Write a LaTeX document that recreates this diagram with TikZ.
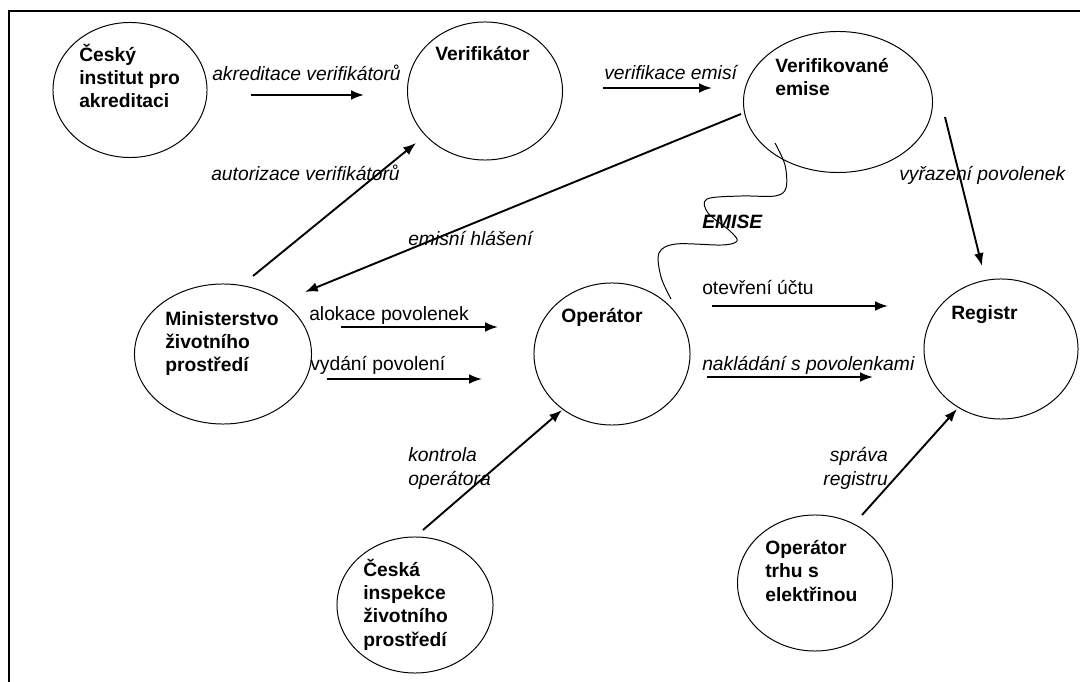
\documentclass[tikz,border=0pt]{standalone}
\usepackage{fontspec}
\setmainfont{Liberation Sans}
\usetikzlibrary{%
  arrows.meta,%
  shapes.geometric%
}
\newcommand{\sz}{\fontsize{13.7}{16.5}\selectfont}
\tikzset{>={Latex[length=3.2mm,width=2.4mm]},
  actor/.style = {draw, ellipse, line width=0.7pt, inner sep=0pt, minimum height=3.45cm},
  actorname/.style = {font=\sz\bfseries, align=left, anchor=base west, inner sep=0pt},
  flow/.style = {->, line width=1.35pt},
  lbl/.style = {font=\sz\itshape, align=left, anchor=base west, inner sep=0pt},
  plainlbl/.style = {lbl, font=\sz}}

\begin{document}
\begin{tikzpicture}[x=0.025cm,y=-0.025cm]
  \useasboundingbox (0,0) rectangle (1080,682);
  \draw[line width=1.4pt] (9,682) -- (9,11) -- (1080,11);

  \node[actor, minimum width=3.85cm, minimum height=3.375cm] (cia) at (130,90) {};
  \node[actor, minimum width=3.875cm] (ver) at (485,91) {};
  \node[actor, minimum width=4.725cm, minimum height=3.525cm] (vem) at (838,102) {};
  \node[actor, minimum width=4.425cm, minimum height=3.5cm] (mzp) at (223,354) {};
  \node[actor, minimum width=3.9cm, minimum height=3.55cm] (ope) at (612,354) {};
  \node[actor, minimum width=3.85cm, minimum height=3.5cm] (reg) at (1001,349) {};
  \node[actor, minimum width=3.9cm, minimum height=3.4cm] (cizp) at (415,605) {};
  \node[actor, minimum width=3.875cm, minimum height=3.4cm] (ote) at (815,583) {};

  % base anchor = last line
  \node[actorname] (cia-t) at (79,108) {Český\\institut pro\\akreditaci};
  \node[actorname] (ver-t) at (435,61) {Verifikátor};
  \node[actorname] (vem-t) at (775,96) {Verifikované\\emise};
  \node[actorname] (mzp-t) at (165,372) {Ministerstvo\\životního\\prostředí};
  \node[actorname] (ope-t) at (561,323) {Operátor};
  \node[actorname] (reg-t) at (951,320) {Registr};
  \node[actorname] (cizp-t) at (363,646) {Česká\\inspekce\\životního\\prostředí};
  \node[actorname] (ote-t) at (765,601) {Operátor\\trhu s\\elektřinou};

  \coordinate (akr-a) at (251,95);  \coordinate (akr-b) at (364,95);
  \coordinate (vef-a) at (603,88);  \coordinate (vef-b) at (712,88);
  \coordinate (aut-a) at (253,276); \coordinate (aut-b) at (416,143);
  \coordinate (emh-a) at (741,114); \coordinate (emh-b) at (305,292);
  \coordinate (vyr-a) at (945,117); \coordinate (vyr-b) at (982,266);
  \coordinate (otv-a) at (712,306); \coordinate (otv-b) at (888,306);
  \coordinate (nak-a) at (707,377); \coordinate (nak-b) at (873,377);
  \coordinate (alo-a) at (341,327); \coordinate (alo-b) at (498,327);
  \coordinate (vyd-a) at (327,379); \coordinate (vyd-b) at (482,379);
  \coordinate (kon-a) at (423,530); \coordinate (kon-b) at (562,410);
  \coordinate (spr-a) at (862,515); \coordinate (spr-b) at (957,409);
  \coordinate (emi-a) at (775,143); \coordinate (emi-b) at (671,299);

  \draw[flow] (akr-a) -- (akr-b);
  \draw[flow] (vef-a) -- (vef-b);
  \draw[flow] (aut-a) -- (aut-b);
  \draw[flow] (emh-a) -- (emh-b);
  \draw[flow] (vyr-a) -- (vyr-b);
  \draw[flow] (otv-a) -- (otv-b);
  \draw[flow] (nak-a) -- (nak-b);
  \draw[flow] (alo-a) -- (alo-b);
  \draw[flow] (vyd-a) -- (vyd-b);
  \draw[flow] (kon-a) -- (kon-b);
  \draw[flow] (spr-a) -- (spr-b);
  \draw[line width=0.7pt] plot[smooth, tension=0.55] coordinates {(emi-a) (785,165) (786,188) (775,196)
    (741,196) (707,199) (708,213) (730,231) (737,241) (722,245) (676,244) (659,253) (661,277) (emi-b)};

  \node[lbl] (akr-l) at (212,81) {akreditace verifikátorů};
  \node[lbl] (vef-l) at (604,80) {verifikace emisí};
  \node[lbl] (aut-l) at (211,181) {autorizace verifikátorů};
  \node[lbl] (emh-l) at (408,246) {emisní hlášení};
  \node[lbl] (vyr-l) at (899,181) {vyřazení povolenek};
  \node[lbl, font=\sz\bfseries\itshape] (emi-l) at (702,229) {EMISE};
  \node[plainlbl] (otv-l) at (702,295) {otevření účtu};
  \node[lbl] (nak-l) at (702,371) {nakládání s povolenkami};
  \node[plainlbl] (alo-l) at (309,321) {alokace povolenek};
  \node[plainlbl] (vyd-l) at (310,371) {vydání povolení};
  \node[lbl] (kon-l) at (408,485) {kontrola\\operátora};
  \node[lbl, align=right, anchor=base east] (spr-l) at (888,485) {správa\\registru};
\end{tikzpicture}
\end{document}
